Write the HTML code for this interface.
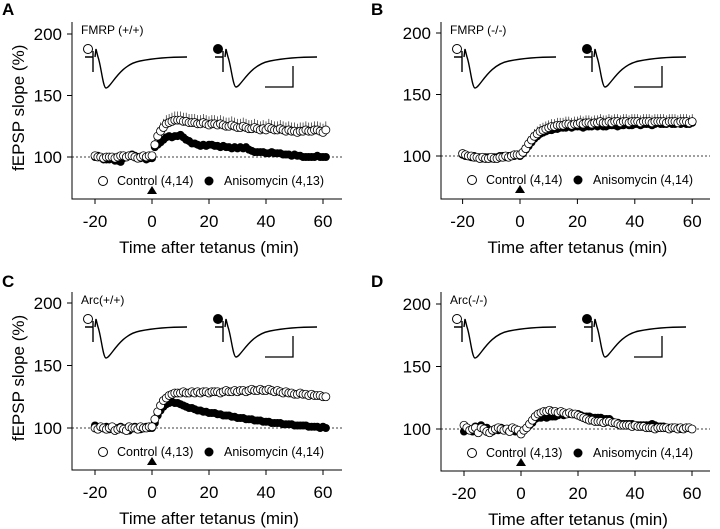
<!DOCTYPE html>
<html><head><meta charset="utf-8"><style>
body{margin:0;background:#fff;}
svg{display:block;font-family:"Liberation Sans",sans-serif;}
</style></head><body>
<svg id="fig" width="720" height="529" viewBox="0 0 720 529"></svg>
<script>
// ---- data (fEPSP slope %, one point per minute) ----
const baseTimes = [-20,-19,-18,-17,-16,-15,-14,-13,-12,-11,-10,-9,-8,-7,-6,-5,-4,-3,-2,-1];
const xTicks = [-20,0,20,40,60];
const yTicks = [100,150,200];
const panelLetters = ["A","B","C","D"];
const genotypes = ["FMRP (+/+)","FMRP (-/-)","Arc(+/+)","Arc(-/-)"];
const controlLabels = ["Control (4,14)","Control (4,14)","Control (4,13)","Control (4,13)"];
const anisoLabels = ["Anisomycin (4,13)","Anisomycin (4,14)","Anisomycin (4,14)","Anisomycin (4,14)"];

const ctrlA = [101,100,100,99,100,100,100,99,100,101,101,100,101,101,100,99,100,101,100,101,
 101,110,117,121,124,127,128,129,130,130,130,129,129,128,128,128,127,127,128,127,126,127,127,126,127,126,125,125,126,125,124,124,125,124,123,123,124,123,122,123,122,124,123,122,122,123,122,121,122,121,121,120,121,121,122,121,121,122,122,121,120,122];
const anisoA = [100,101,100,98,98,98,99,97,97,96,99,100,101,102,101,100,99,100,98,99,
 99,108,110,112,114,116,117,116,117,117,118,116,114,113,111,111,110,109,110,109,110,110,109,109,108,109,108,108,107,108,107,108,107,108,106,105,104,104,104,104,103,103,104,103,103,103,102,102,102,101,102,101,101,100,100,100,100,100,101,100,100,100];
const ctrlB = [102,101,100,100,99,99,98,99,98,98,99,98,98,99,99,100,99,100,101,101,
 101,103,106,110,113,116,118,120,121,122,123,124,124,125,125,125,126,126,125,126,126,127,126,127,127,126,127,127,128,127,127,128,127,128,128,127,128,128,127,128,128,128,127,128,128,128,127,128,128,128,128,127,128,128,128,127,128,128,128,127,128];
const anisoB = [101,100,100,99,100,99,99,98,99,99,98,99,99,100,100,99,100,100,100,101,
 100,102,105,108,111,114,116,118,119,120,121,121,122,122,123,123,123,124,123,124,124,124,123,124,124,124,125,124,125,124,124,125,125,125,124,125,125,126,125,125,126,126,125,126,126,126,125,126,127,126,126,126,127,126,126,127,126,127,126,126,127];
const ctrlC = [100,99,101,100,99,100,101,98,99,100,99,98,101,100,100,99,101,100,100,101,
 101,107,113,118,122,124,126,127,128,128,128,129,128,128,129,128,129,128,129,129,128,129,129,129,128,129,130,129,129,130,129,130,130,129,130,131,130,130,131,130,130,131,130,129,130,129,128,129,128,128,127,127,128,127,127,126,127,126,126,126,125,125];
const anisoC = [102,100,101,100,101,99,100,98,100,101,99,100,98,100,101,99,99,100,101,100,
 100,104,110,114,117,119,120,121,120,120,119,118,117,116,116,115,114,114,113,113,112,112,112,111,111,110,110,110,109,109,108,108,108,107,107,107,106,106,106,105,105,105,104,104,104,104,103,103,103,103,102,102,102,102,102,101,101,101,101,100,101,100];
const ctrlD = [103,101,99,100,101,97,101,100,98,97,99,100,101,100,99,100,98,101,100,99,
 96,99,101,104,107,110,112,113,114,114,115,114,114,113,114,113,112,113,112,112,111,110,109,108,107,107,106,106,106,105,106,106,105,105,104,103,103,103,103,102,103,102,102,102,101,101,101,100,101,101,101,101,100,101,101,100,101,100,101,101,100];
const anisoD = [98,100,99,98,102,101,103,100,101,99,98,100,99,101,100,99,98,99,98,99,
 98,99,101,103,105,108,109,109,110,109,110,110,110,111,112,111,112,112,112,112,112,111,110,110,110,109,109,109,109,108,108,108,106,105,105,104,104,104,104,104,103,103,103,103,103,103,104,103,102,102,102,101,101,101,101,101,100,100,101,101,100];
const ctrlErr = [4,3,0,0]; // error bar extent (%) on control post-tetanus points

const NS="http://www.w3.org/2000/svg";
const svg=document.getElementById('fig');
function mk(tag,attrs,parent){const e=document.createElementNS(NS,tag);for(const k in attrs)e.setAttribute(k,attrs[k]);(parent||svg).appendChild(e);return e;}

const layouts=[
 {ax:72, x0:152, ppm:2.85, y100:157, ppp:1.23, xb:199, top:22, right:342, ox:0, oy:0},
 {ax:441,x0:520, ppm:2.87, y100:156, ppp:1.23, xb:199, top:22, right:710, ox:369,oy:0},
 {ax:72, x0:152, ppm:2.85, y100:428, ppp:1.25, xb:470, top:292,right:342, ox:0, oy:272},
 {ax:441,x0:521, ppm:2.85, y100:429, ppp:1.25, xb:471, top:292,right:710, ox:369,oy:272}
];
const ctrls=[ctrlA,ctrlB,ctrlC,ctrlD], anis=[anisoA,anisoB,anisoC,anisoD];

function timesFor(arr){const t=baseTimes.slice();for(let i=0;t.length<arr.length;i++)t.push(i);return t;}

layouts.forEach((L,p)=>{
  const g=mk('g',{});
  
  
  const xs=t=>L.x0+t*L.ppm, ys=v=>L.y100-(v-100)*L.ppp;
  const letter=mk('text',{x:L.ox+2,y:L.oy+15,'font-size':17,'font-weight':'bold'},g);letter.textContent=panelLetters[p];
  
  
  const axes=mk('path',{d:`M${L.ax} ${L.top}V${L.xb}H${L.right}`,stroke:'#000','stroke-width':1,fill:'none'},g);
  
  
  yTicks.forEach(v=>{
    mk('line',{x1:L.ax-5,x2:L.ax,y1:ys(v),y2:ys(v),stroke:'#000'},g);
    const t=mk('text',{x:L.ax-10,y:ys(v)+6,'font-size':17,'text-anchor':'end'},g);t.textContent=v;
    
    
  });
  xTicks.forEach(v=>{
    mk('line',{x1:xs(v),x2:xs(v),y1:L.xb,y2:L.xb+5,stroke:'#000'},g);
    const t=mk('text',{x:xs(v),y:L.xb+28,'font-size':17,'text-anchor':'middle'},g);t.textContent=v;
    
    
  });
  const xt=mk('text',{x:(xs(-20)+xs(60))/2,y:L.xb+54,'font-size':17,'text-anchor':'middle'},g);xt.textContent='Time after tetanus (min)';
  
  
  if(p%2===0){
    const yt=mk('text',{x:0,y:0,'font-size':17,'text-anchor':'middle',transform:`translate(${L.ax-48},${ys(140)}) rotate(-90)`},g);yt.textContent='fEPSP slope (%)';
    
    
  }
  const dl=mk('line',{x1:L.ax,x2:L.right,y1:ys(100),y2:ys(100),stroke:'#000','stroke-width':0.7,'stroke-dasharray':'2,2'},g);
  
  
  const gl=mk('text',{x:L.ax+9,y:L.top+12,'font-size':12},g);gl.textContent=genotypes[p];
  
  
  const by=L.top+35, tr=[L.ax+13,L.ax+143];
  tr.forEach((bx,k)=>{
    const ig=mk('g',{},g);
    
    
    mk('circle',{cx:bx+3,cy:by-8,r:4.5,fill:k?'#000':'#fff',stroke:'#000'},ig);
    const dip=k?30:31;
    const d=`M${bx} ${by}H${bx+8}M${bx+8} ${by-6}V${by+15}M${bx+10} ${by}L${bx+11} ${by-8}L${bx+13} ${by}C${bx+16} ${by+8} ${bx+18} ${by+dip} ${bx+21} ${by+dip}C${bx+26} ${by+dip} ${bx+34} ${by+8} ${bx+55} ${by+4}C${bx+70} ${by+1} ${bx+85} ${by} ${bx+102} ${by}`;
    mk('path',{d,stroke:'#000',fill:'none','stroke-width':1.4},ig);
  });
  const sb=mk('path',{d:`M${L.ax+193} ${by+30}H${L.ax+221}V${by+9}`,stroke:'#000',fill:'none','stroke-width':1.3},g);
  
  
  const aT=timesFor(anis[p]), cT=timesFor(ctrls[p]);
  anis[p].forEach((v,i)=>{
    const c=mk('circle',{cx:xs(aT[i]),cy:ys(v),r:4,fill:'#000'},g);
    
    
  });
  ctrls[p].forEach((v,i)=>{
    if(ctrlErr[p]&&cT[i]>0){
      const e=mk('line',{x1:xs(cT[i]),x2:xs(cT[i]),y1:ys(v),y2:ys(v)-(ctrlErr[p]+3)*L.ppp,stroke:'#000','stroke-width':0.6},g);
      
      
    }
  });
  ctrls[p].forEach((v,i)=>{
    const c=mk('circle',{cx:xs(cT[i]),cy:ys(v),r:4,fill:'#fff',stroke:'#000','stroke-width':0.8},g);
    
    
  });
  const ly=ys(100)+24;
  const lg=mk('g',{},g);
  
  
  mk('circle',{cx:L.ax+31,cy:ly,r:4.5,fill:'#fff',stroke:'#000'},lg);
  const t1=mk('text',{x:L.ax+45,y:ly+4,'font-size':12.5},lg);t1.textContent=controlLabels[p];
  mk('circle',{cx:L.ax+137,cy:ly,r:4.5,fill:'#000'},lg);
  const t2=mk('text',{x:L.ax+152,y:ly+4,'font-size':12.5},lg);t2.textContent=anisoLabels[p];
  const ar=mk('path',{d:`M${xs(0)-5} ${ly+13}L${xs(0)+5} ${ly+13}L${xs(0)} ${ly+5}Z`,fill:'#000'},g);
  
  
});
</script>
</body></html>
